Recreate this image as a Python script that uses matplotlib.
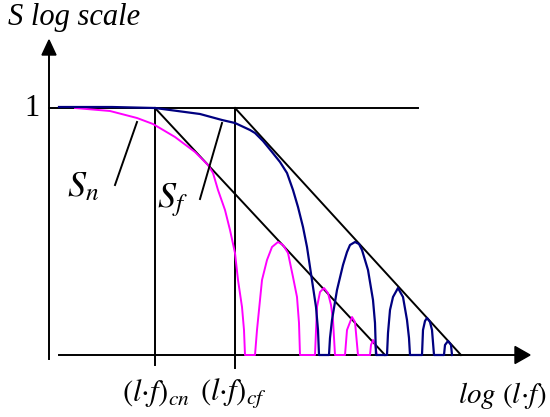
import numpy as np
import matplotlib.pyplot as plt

# curves: x = log(l*f), y = log S (S=1 at y=0)
sf_x = [0.10, 0.63, 1.06, 1.21, 1.51, 1.73, 1.86, 2.01, 2.06, 2.14, 2.23, 2.31, 2.38, 2.44,
        2.49, 2.54, 2.58, 2.61, 2.64, 2.67, 2.69, 2.70,
        2.80, 2.81, 2.83, 2.88, 2.94, 2.98, 3.01, 3.06, 3.10, 3.13, 3.19, 3.24, 3.26, 3.27,
        3.38, 3.39, 3.41, 3.44, 3.49, 3.54, 3.58, 3.60, 3.61,
        3.73, 3.74, 3.76, 3.78, 3.81, 3.83, 3.85,
        3.95, 3.96, 3.99, 4.02, 4.03]
sf_y = [0.01, 0.01, 0.00, -0.02, -0.06, -0.12, -0.15, -0.22, -0.25, -0.33, -0.44, -0.54, -0.65, -0.82,
        -0.99, -1.19, -1.39, -1.59, -1.79, -1.99, -2.22, -2.47,
        -2.47, -2.30, -2.12, -1.82, -1.57, -1.44, -1.37, -1.34, -1.36, -1.42, -1.62, -1.92, -2.15, -2.47,
        -2.47, -2.25, -2.02, -1.89, -1.80, -1.89, -2.12, -2.30, -2.47,
        -2.47, -2.22, -2.13, -2.10, -2.14, -2.22, -2.47,
        -2.47, -2.37, -2.33, -2.37, -2.47]

sn_x = [0.26, 0.61, 0.88, 1.04, 1.26, 1.46, 1.59, 1.64, 1.69, 1.76, 1.81, 1.86, 1.89, 1.93, 1.95, 1.96,
        2.06, 2.08, 2.09, 2.13, 2.18, 2.23, 2.29, 2.34, 2.39, 2.44, 2.48, 2.50, 2.51,
        2.66, 2.68, 2.71, 2.75, 2.79, 2.82, 2.84, 2.86,
        2.96, 2.98, 3.03, 3.06, 3.09,
        3.21, 3.22, 3.24, 3.26, 3.28]
sn_y = [0.00, -0.03, -0.10, -0.16, -0.29, -0.44, -0.57, -0.65, -0.82, -1.02, -1.22, -1.45, -1.72, -1.99, -2.22, -2.47,
        -2.47, -2.22, -2.12, -1.72, -1.52, -1.39, -1.34, -1.37, -1.45, -1.69, -1.89, -2.15, -2.47,
        -2.47, -1.99, -1.84, -1.80, -1.85, -1.97, -2.12, -2.47,
        -2.47, -2.22, -2.09, -2.14, -2.47,
        -2.47, -2.37, -2.32, -2.36, -2.47]

x_cn, x_cf = 1.06, 1.86      # corner frequencies
y_floor = -2.47              # where the x axis sits
x_end_n, x_end_f = 3.36, 4.12

plt.rcParams['mathtext.fontset'] = 'stix'
serif = 'Liberation Serif'

fig = plt.figure(figsize=(5.5, 4.17), dpi=100)
ax = fig.add_axes([0, 0, 1, 1])
ax.set_xlim(-0.49, 5.01)
ax.set_ylim(-3.09, 1.08)
ax.axis('off')

lw = 1.4
# axes with arrows
ax.plot([0, 0], [-2.51, 0.55], color='black', lw=lw)
ax.fill([-0.07, 0.07, 0], [0.53, 0.53, 0.68], color='black')
ax.plot([0.10, 4.68], [y_floor, y_floor], color='black', lw=lw)
ax.fill([4.66, 4.66, 4.81], [y_floor - 0.085, y_floor + 0.085, y_floor], color='black')

# asymptotes
ax.plot([0, 3.69], [0, 0], color='black', lw=lw)
ax.plot([x_cn, x_cn], [0, -2.57], color='black', lw=lw)
ax.plot([x_cf, x_cf], [0, -2.60], color='black', lw=lw)
ax.plot([x_cn, x_end_n], [0, y_floor], color='black', lw=lw)
ax.plot([x_cf, x_end_f], [0, y_floor], color='black', lw=lw)

# curves
ax.plot(sn_x, sn_y, color='#ff00ff', lw=1.4)
ax.plot(sf_x, sf_y, color='#000080', lw=1.6)

# leader lines
ax.plot([0.66, 0.88], [-0.77, -0.14], color='black', lw=lw)
ax.plot([1.51, 1.73], [-0.91, -0.15], color='black', lw=lw)

# text
ax.text(-0.41, 0.83, 'S log scale', fontsize=22, family=serif, style='italic', va='baseline')
ax.text(-0.09, 0.0, '1', fontsize=22, family=serif, ha='right', va='center')
ax.text(0.18, -0.88, r'$S_n$', fontsize=26, va='baseline')
ax.text(1.08, -0.99, r'$S_f$', fontsize=26, va='baseline')
ax.text(x_cn + 0.01, -2.93, r'$(l{\cdot}f)_{cn}$', fontsize=22, ha='center', va='baseline')
ax.text(x_cf - 0.01, -2.93, r'$(l{\cdot}f)_{cf}$', fontsize=22, ha='center', va='baseline')
ax.text(4.98, -2.95, r'$log\ (l{\cdot}f)$', fontsize=21, ha='right', va='baseline')

fig.savefig('out.png', dpi=100)
